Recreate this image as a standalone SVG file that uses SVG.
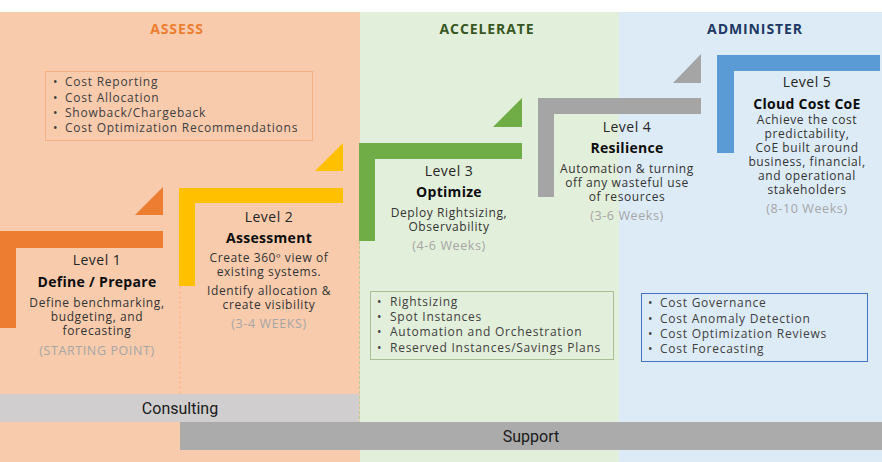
<svg xmlns="http://www.w3.org/2000/svg" width="882" height="462" viewBox="0 0 882 462">
<style>
text{font-family:"Open Sans","Noto Sans","DejaVu Sans",sans-serif;}
.phase{font-size:14px;font-weight:700;text-anchor:middle;letter-spacing:0.9px;}
.lvl{font-size:14px;fill:#262626;text-anchor:middle;letter-spacing:0.5px;}
.ttl{font-size:14px;font-weight:700;fill:#0d0d0d;text-anchor:middle;letter-spacing:0.3px;}
.desc{font-size:12px;fill:#333333;text-anchor:middle;letter-spacing:0.6px;}
.wk{font-size:12.5px;fill:#a6a6a6;text-anchor:middle;letter-spacing:0.6px;}
.bul{font-size:12px;fill:#404040;letter-spacing:0.75px;}
.bar{font-family:Roboto,"Liberation Sans",sans-serif;font-size:16px;fill:#1a1a1a;text-anchor:middle;}
</style>
<g id="panels">
<rect x="0" y="12" width="360" height="450" fill="#F8CBAD"/>
<rect x="360" y="12" width="259" height="450" fill="#E2EFDA"/>
<rect x="619" y="12" width="263" height="450" fill="#DDEBF7"/>
<line x1="180" y1="286" x2="180" y2="422" stroke="#F4B183" stroke-width="0.8" stroke-dasharray="3,2"/>
<line x1="359.5" y1="241" x2="359.5" y2="422" stroke="#A9D08E" stroke-width="0.8" stroke-dasharray="3,2"/>
<text class="phase" x="177" y="34" fill="#ED7D31">ASSESS</text>
<text class="phase" x="487" y="34" fill="#385723">ACCELERATE</text>
<text class="phase" x="755" y="34" fill="#203864">ADMINISTER</text>
</g>
<g id="box-assess">
<rect x="45.5" y="71.5" width="267" height="69" fill="none" stroke="#F4B183" stroke-width="1"/>
<g class="bul">
<text x="53" y="86">•</text><text x="65" y="86">Cost Reporting</text>
<text x="53" y="102">•</text><text x="65" y="102">Cost Allocation</text>
<text x="53" y="117">•</text><text x="65" y="117">Showback/Chargeback</text>
<text x="53" y="132">•</text><text x="65" y="132">Cost Optimization Recommendations</text>
</g>
</g>
<g id="level1">
<path d="M0 231H163V248H16V328H0Z" fill="#ED7D31"/>
<path d="M135 215H163V187Z" fill="#ED7D31"/>
<text class="lvl" x="97" y="265">Level 1</text>
<text class="ttl" x="97" y="287">Define / Prepare</text>
<text class="desc" x="97" y="307">Define benchmarking,</text>
<text class="desc" x="97" y="321">budgeting, and</text>
<text class="desc" x="97" y="335">forecasting</text>
<text class="wk" x="97" y="355">(STARTING POINT)</text>
</g>
<g id="level2">
<path d="M179 188H343V203H195V286H179Z" fill="#FFC000"/>
<path d="M315 171H343V143Z" fill="#FFC000"/>
<text class="lvl" x="269" y="222">Level 2</text>
<text class="ttl" x="269" y="243">Assessment</text>
<text class="desc" x="269" y="262">Create 360º view of</text>
<text class="desc" x="269" y="276">existing systems.</text>
<text class="desc" x="269" y="295">Identify allocation &amp;</text>
<text class="desc" x="269" y="309">create visibility</text>
<text class="wk" x="269" y="328">(3-4 WEEKS)</text>
</g>
<g id="level3">
<path d="M359 143H522V159H375V241H359Z" fill="#70AD47"/>
<path d="M493 127H522V98Z" fill="#70AD47"/>
<text class="lvl" x="449" y="176">Level 3</text>
<text class="ttl" x="449" y="197">Optimize</text>
<text class="desc" x="449" y="217">Deploy Rightsizing,</text>
<text class="desc" x="449" y="231">Observability</text>
<text class="wk" x="449" y="250">(4-6 Weeks)</text>
</g>
<g id="level4">
<path d="M538 98H701V114H554V197H538Z" fill="#A5A5A5"/>
<path d="M673 83H701V54Z" fill="#A5A5A5"/>
<text class="lvl" x="627" y="132">Level 4</text>
<text class="ttl" x="627" y="153">Resilience</text>
<text class="desc" x="627" y="173">Automation &amp; turning</text>
<text class="desc" x="627" y="187">off any wasteful use</text>
<text class="desc" x="627" y="201">of resources</text>
<text class="wk" x="627" y="220">(3-6 Weeks)</text>
</g>
<g id="level5">
<path d="M717 55H880V71H734V153H717Z" fill="#5B9BD5"/>
<text class="lvl" x="807" y="87">Level 5</text>
<text class="ttl" x="807" y="109">Cloud Cost CoE</text>
<text class="desc" x="807" y="124">Achieve the cost</text>
<text class="desc" x="807" y="138">predictability,</text>
<text class="desc" x="807" y="152">CoE built around</text>
<text class="desc" x="807" y="166">business, financial,</text>
<text class="desc" x="807" y="180">and operational</text>
<text class="desc" x="807" y="194">stakeholders</text>
<text class="wk" x="807" y="213">(8-10 Weeks)</text>
</g>
<g id="box-accelerate">
<rect x="370.5" y="291.5" width="243" height="68" fill="none" stroke="#A9BF96" stroke-width="1"/>
<g class="bul">
<text x="377" y="306">•</text><text x="390" y="306">Rightsizing</text>
<text x="377" y="321">•</text><text x="390" y="321">Spot Instances</text>
<text x="377" y="336">•</text><text x="390" y="336">Automation and Orchestration</text>
<text x="377" y="352">•</text><text x="390" y="352">Reserved Instances/Savings Plans</text>
</g>
</g>
<g id="box-administer">
<rect x="641.5" y="293.5" width="226" height="68" fill="none" stroke="#4472C4" stroke-width="1"/>
<g class="bul">
<text x="648" y="307">•</text><text x="660" y="307">Cost Governance</text>
<text x="648" y="323">•</text><text x="660" y="323">Cost Anomaly Detection</text>
<text x="648" y="338">•</text><text x="660" y="338">Cost Optimization Reviews</text>
<text x="648" y="353">•</text><text x="660" y="353">Cost Forecasting</text>
</g>
</g>
<g id="consulting">
<rect x="0" y="394" width="359" height="28" fill="#D0CECE"/>
<text class="bar" x="180" y="414">Consulting</text>
</g>
<g id="support">
<rect x="180" y="422" width="702" height="28" fill="#ABABAB"/>
<text class="bar" x="531" y="442">Support</text>
</g>
<g id="connectors"/>
</svg>
